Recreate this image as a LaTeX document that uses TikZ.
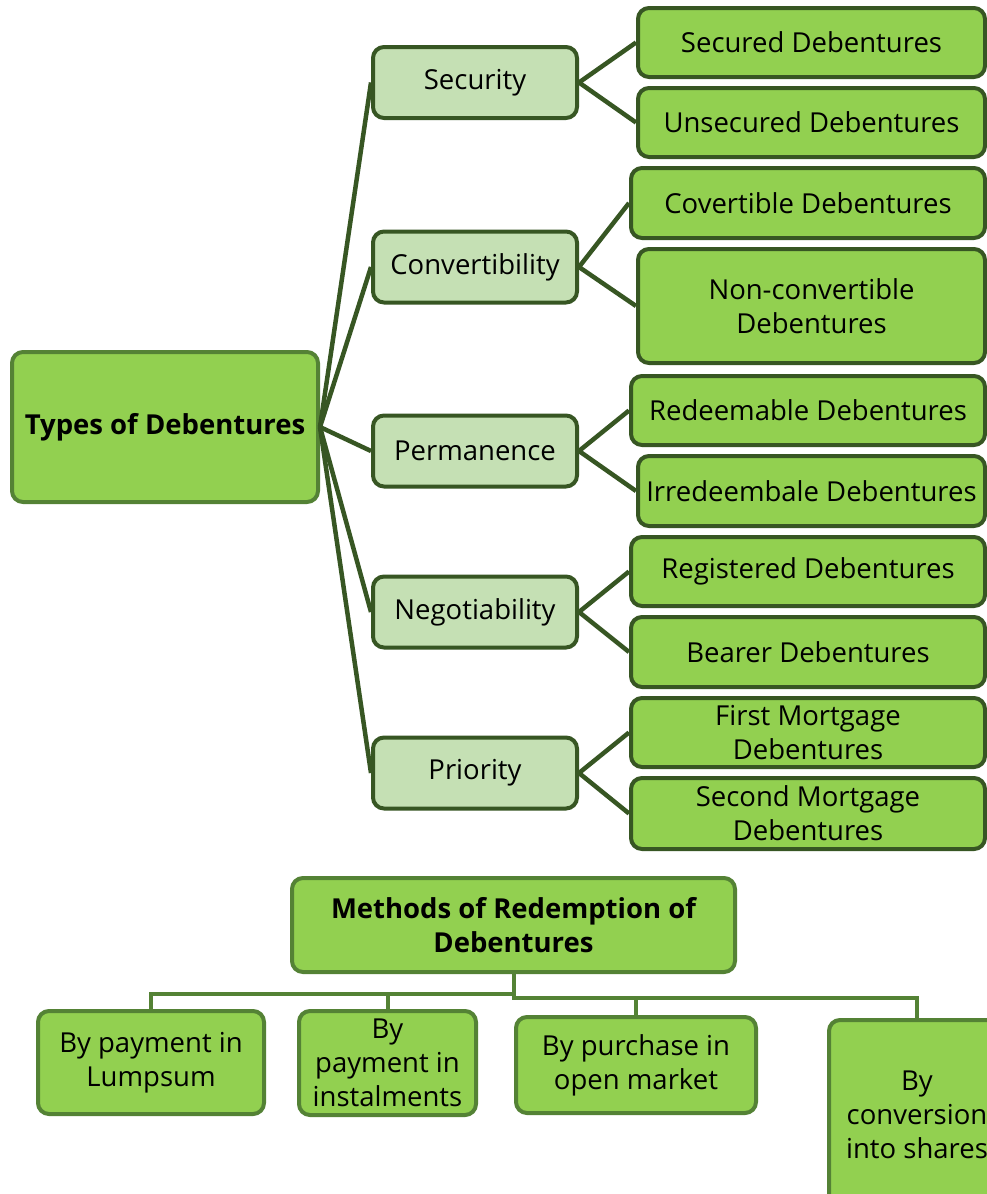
\documentclass[tikz,border=0pt]{standalone}
\usepackage{fontspec}
\setmainfont{Open Sans}
\usetikzlibrary{positioning}

\definecolor{leafgreen}{HTML}{92D050}
\definecolor{palegreen}{HTML}{C5E0B4}
\definecolor{darkgreen}{HTML}{375623}
\definecolor{midgreen}{HTML}{548235}

\tikzset{
  box/.style={rectangle, rounded corners=11pt, line width=4pt, align=center,
    inner sep=0pt, font=\fontsize{27.5}{34}\selectfont},
  rootbox/.style={box, fill=leafgreen, draw=midgreen, font=\fontsize{27.5}{34}\selectfont\bfseries},
  catbox/.style={box, fill=palegreen, draw=darkgreen, minimum width=204pt, minimum height=71pt},
  typebox/.style={box, fill=leafgreen, draw=darkgreen, minimum height=69pt},
  waybox/.style={box, fill=leafgreen, draw=midgreen},
  link/.style={line width=4.5pt, draw=darkgreen},
  elbow/.style={line width=4pt, draw=midgreen}
}

\begin{document}
\begin{tikzpicture}[x=1pt, y=-1pt]
  \path[use as bounding box, clip] (0,0) rectangle (987,1194);
  \fill[white] (0,0) rectangle (987,1194);

  % types of debentures
  \node (types) [rootbox, minimum width=306pt, minimum height=150pt] at (165,427) {Types of Debentures};

  \node (security) [catbox] at (475,82.5) {Security};
  \node (convert) [catbox] at (475,267) {Convertibility};
  \node (perm) [catbox] at (475,451) {Permanence};
  \node (nego) [catbox] at (475,612) {Negotiability};
  \node (priority) [catbox] at (475,773) {Priority};

  \node (secured) [typebox, minimum width=347pt] at (811.5,42.5) {Secured Debentures};
  \node (unsecured) [typebox, minimum width=347pt] at (811.5,122.5) {Unsecured Debentures};
  \node (covert) [typebox, minimum width=354pt, minimum height=70pt] at (808,203) {Covertible Debentures};
  \node (nonconv) [typebox, minimum width=347pt, minimum height=114pt] at (811.5,306) {Non-convertible\\Debentures};
  \node (redeem) [typebox, minimum width=354pt] at (808,410.5) {Redeemable Debentures};
  \node (irredeem) [typebox, minimum width=347pt, minimum height=70pt] at (811.5,491) {Irredeembale Debentures};
  \node (registered) [typebox, minimum width=354pt] at (808,571.5) {Registered Debentures};
  \node (bearer) [typebox, minimum width=354pt, minimum height=70pt] at (808,652) {Bearer Debentures};
  \node (first) [typebox, minimum width=354pt] at (808,732.5) {First Mortgage\\Debentures};
  \node (second) [typebox, minimum width=354pt, minimum height=71pt] at (808,813.5) {Second Mortgage\\Debentures};

  \foreach \cat in {security, convert, perm, nego, priority}
    \draw[link] (types.east) -- (\cat.west);
  \draw[link] (security.east) -- (secured.west);
  \draw[link] (security.east) -- (unsecured.west);
  \draw[link] (convert.east) -- (covert.west);
  \draw[link] (convert.east) -- (nonconv.west);
  \draw[link] (perm.east) -- (redeem.west);
  \draw[link] (perm.east) -- (irredeem.west);
  \draw[link] (nego.east) -- (registered.west);
  \draw[link] (nego.east) -- (bearer.west);
  \draw[link] (priority.east) -- (first.west);
  \draw[link] (priority.east) -- (second.west);

  % methods of redemption
  \node (methods) [rootbox, minimum width=443pt, minimum height=94pt] at (513.5,925) {Methods of Redemption of\\Debentures};

  \node (lumpsum) [waybox, minimum width=226pt, minimum height=103pt] at (151,1062.5) {By payment in\\Lumpsum};
  \node (instal) [waybox, minimum width=177pt, minimum height=104pt] at (387.5,1063) {By\\payment in\\instalments};
  \node (market) [waybox, minimum width=240pt, minimum height=96pt] at (636,1065) {By purchase in\\open market};
  \node (shares) [waybox, minimum width=176pt, minimum height=190pt] at (917,1115) {By\\conversion\\into shares};

  \draw[elbow] (methods.south) -- ++(0,20) -| (lumpsum.north);
  \draw[elbow] (methods.south) -- ++(0,20) -| (instal.north);
  \draw[elbow] (methods.south) -- ++(0,24) -| (market.north);
  \draw[elbow] (methods.south) -- ++(0,24) -| (shares.north);
\end{tikzpicture}
\end{document}
